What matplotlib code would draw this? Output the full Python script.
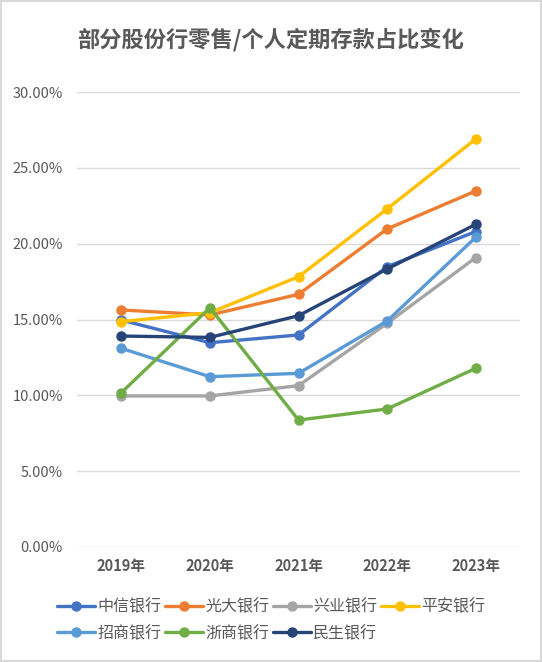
import matplotlib
matplotlib.use("Agg")
import matplotlib.pyplot as plt
from matplotlib.ticker import FuncFormatter
from matplotlib.patches import Rectangle

plt.rcParams['font.family'] = ['Noto Sans CJK SC', 'DejaVu Sans']

years = ["2019年", "2020年", "2021年", "2022年", "2023年"]
zhongxin = [14.96, 13.47, 13.98, 18.48, 20.80]
guangda = [15.63, 15.30, 16.66, 20.97, 23.47]
xingye = [9.96, 9.96, 10.64, 14.75, 19.08]
pingan = [14.86, 15.45, 17.82, 22.29, 26.90]
zhaoshang = [13.10, 11.23, 11.45, 14.90, 20.42]
zheshang = [10.17, 15.78, 8.37, 9.10, 11.78]
minsheng = [13.91, 13.82, 15.25, 18.33, 21.27]

series = [
    ("中信银行", zhongxin, "#4472C4"),
    ("光大银行", guangda, "#ED7D31"),
    ("兴业银行", xingye, "#A5A5A5"),
    ("平安银行", pingan, "#FFC000"),
    ("招商银行", zhaoshang, "#5B9BD5"),
    ("浙商银行", zheshang, "#70AD47"),
    ("民生银行", minsheng, "#264478"),
]

fig = plt.figure(figsize=(5.42, 6.62), dpi=100)
ax = fig.add_axes([77/542, 1-547/662, (520-77)/542, (547-92)/662])

x = list(range(len(years)))
handles = {}
for name, vals, color in series:
    h, = ax.plot(x, vals, color=color, lw=2.4, marker='o', markersize=6.5,
                 solid_capstyle='round', label=name, zorder=3)
    handles[name] = h

ax.set_xlim(-0.5, len(years) - 0.5)
ax.set_ylim(0, 30)
ax.set_yticks([0, 5, 10, 15, 20, 25, 30])
ax.yaxis.set_major_formatter(FuncFormatter(lambda v, p: f"{v:.2f}%"))
ax.set_xticks(x)
ax.set_xticklabels(years, fontweight='bold', fontsize=10.5, color='#595959')
ax.tick_params(axis='y', length=0, labelsize=10.5, labelcolor='#595959', pad=10)
ax.tick_params(axis='x', length=0, pad=8)
ax.grid(axis='y', color='#D9D9D9', lw=1, zorder=0)
for s in ax.spines.values():
    s.set_visible(False)

fig.text(0.5, 1-40/662, "部分股份行零售/个人定期存款占比变化", ha='center', va='center',
         fontsize=16, color='#595959', fontweight='bold')

order = ["中信银行", "招商银行", "光大银行", "浙商银行", "兴业银行", "民生银行", "平安银行"]
fig.legend([handles[n] for n in order], order, loc='upper center',
           bbox_to_anchor=(0.5, 1-584/662), ncol=4, frameon=False,
           fontsize=11.5, handlelength=2.4, handletextpad=0.15, columnspacing=0.2,
           labelspacing=0.6, labelcolor='#595959')

fig.patches.append(Rectangle((0.002, 0.002), 0.996, 0.996, transform=fig.transFigure,
                             fill=False, edgecolor='#D9D9D9', lw=1.5))

fig.savefig("out.png", dpi=100, facecolor='white')
